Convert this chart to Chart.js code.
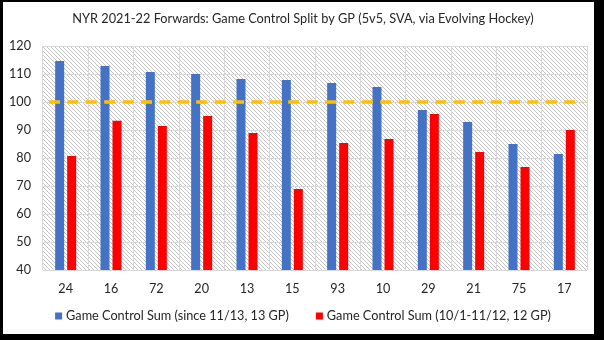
<!DOCTYPE html>
<html>
<head>
<meta charset="utf-8">
<script src="https://cdn.jsdelivr.net/npm/chart.js@4/dist/chart.umd.min.js"></script>
<style>
  html, body { margin: 0; padding: 0; background: #000; }
  #wrap { width: 604px; height: 340px; position: relative; }
  canvas { display: block; }
</style>
</head>
<body>
<div id="wrap"><canvas id="c" width="604" height="340"></canvas></div>
<script>
// ---- Data ----
const chartTitle = 'NYR 2021-22 Forwards: Game Control Split by GP (5v5, SVA, via Evolving Hockey)';
const categories = ['24', '16', '72', '20', '13', '15', '93', '10', '29', '21', '75', '17'];
const seriesNames = ['Game Control Sum (since 11/13, 13 GP)', 'Game Control Sum (10/1-11/12, 12 GP)'];
const sinceValues = [114.6, 112.9, 110.7, 110.0, 108.2, 107.9, 106.8, 105.4, 97.1, 92.9, 85.0, 81.4];
const earlyValues = [80.7, 93.3, 91.4, 95.0, 88.9, 68.9, 85.4, 86.8, 95.7, 82.1, 76.8, 90.0];
const referenceLevel = 100;
const yMin = 40, yMax = 120, yStep = 10;

// ---- Styles ----
const FAMILY = 'Lato, "Liberation Sans", sans-serif';
const TEXT = '#262626';
function fitSize(text, width) {
  const m = document.createElement('canvas').getContext('2d');
  m.font = '100px ' + FAMILY;
  return 100 * width / m.measureText(text).width;
}
const titleSize = fitSize(chartTitle, 462);
const legendSize = fitSize(seriesNames[0], 223);
const tickSize = fitSize('110', 22);

// hatch pattern
const pc = document.createElement('canvas');
pc.width = 4; pc.height = 4;
const pctx = pc.getContext('2d');
pctx.fillStyle = '#ffffff'; pctx.fillRect(0, 0, 4, 4);
pctx.fillStyle = '#c4c4c4';
for (let i = 0; i < 4; i++) pctx.fillRect(i, i, 1, 1);

const cardPlugin = {
  id: 'card',
  beforeDraw(chart) {
    const ctx = chart.ctx;
    ctx.save();
    ctx.fillStyle = '#000'; ctx.fillRect(0, 0, chart.width, chart.height);
    ctx.fillStyle = '#fff'; ctx.fillRect(3, 2, 591, 332);
    const a = chart.chartArea;
    ctx.fillStyle = ctx.createPattern(pc, 'repeat');
    ctx.fillRect(a.left, a.top, a.right - a.left, a.bottom - a.top);
    ctx.restore();
  },
  afterDatasetsDraw(chart) {
    const ctx = chart.ctx, a = chart.chartArea;
    const y = chart.scales.y.getPixelForValue(referenceLevel);
    ctx.save();
    ctx.strokeStyle = '#FFC000';
    ctx.lineWidth = 3.5;
    ctx.setLineDash([11, 7.4]);
    ctx.beginPath();
    ctx.moveTo(a.left + 6, y);
    ctx.lineTo(a.right - 4, y);
    ctx.stroke();
    ctx.restore();
  },
  afterDraw(chart) {
    const ctx = chart.ctx;
    ctx.save();
    // title
    ctx.fillStyle = TEXT;
    ctx.font = titleSize + 'px ' + FAMILY;
    ctx.textAlign = 'center';
    ctx.textBaseline = 'middle';
    ctx.fillText(chartTitle, 303, 19);
    // legend
    ctx.font = legendSize + 'px ' + FAMILY;
    ctx.textAlign = 'left';
    const box = 7, gapText = 4, gapItem = 27;
    const widths = chart.data.datasets.map(d => box + gapText + ctx.measureText(d.label).width);
    const total = widths.reduce((s, w) => s + w, 0) + gapItem * (widths.length - 1);
    let x = 303 - total / 2;
    const yc = 316;
    chart.data.datasets.forEach((d, i) => {
      ctx.fillStyle = d.backgroundColor;
      ctx.fillRect(x, yc - box / 2, box, box);
      ctx.fillStyle = TEXT;
      ctx.fillText(d.label, x + box + gapText, yc);
      x += widths[i] + gapItem;
    });
    ctx.restore();
  }
};

new Chart(document.getElementById('c'), {
  type: 'bar',
  data: {
    labels: categories,
    datasets: [
      { label: seriesNames[0], data: sinceValues, backgroundColor: '#4472C4' },
      { label: seriesNames[1], data: earlyValues, backgroundColor: '#FF0000' }
    ]
  },
  options: {
    responsive: false,
    animation: false,
    devicePixelRatio: 1,
    layout: { padding: { left: 3, top: 46, right: 17, bottom: 6 } },
    categoryPercentage: 0.53,
    barPercentage: 0.75,
    plugins: {
      legend: { display: false },
      title: { display: false },
      tooltip: { enabled: false }
    },
    scales: {
      x: {
        grid: { color: '#d9d9d9', lineWidth: 1, drawTicks: false, offset: true },
        border: { display: false },
        ticks: { color: TEXT, font: { family: FAMILY, size: tickSize }, padding: 11, maxRotation: 0 },
        afterFit(s) { s.height = 64; }
      },
      y: {
        min: yMin, max: yMax,
        grid: { color: '#d9d9d9', lineWidth: 1, drawTicks: false },
        border: { display: false },
        ticks: { stepSize: yStep, color: TEXT, font: { family: FAMILY, size: tickSize }, padding: 12 },
        afterFit(s) { s.width = 40; }
      }
    }
  },
  plugins: [cardPlugin]
});
</script>
</body>
</html>
